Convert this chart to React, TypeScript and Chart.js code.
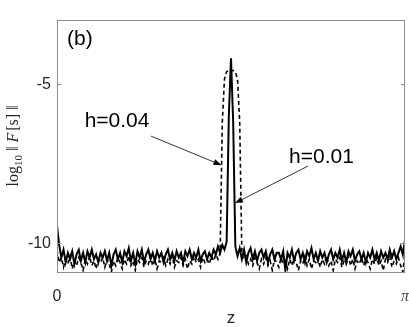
import React, { useEffect, useRef } from "react";
import { Chart, registerables } from "chart.js";

Chart.register(...registerables);

// grid: z_i = i * PI / 160, i = 0..160
const N_STEPS = 160;
const X_MIN = 0;
const X_MAX = Math.PI;
const Y_MIN = -10.9;
const Y_MAX = -3.0;
const Y_TICKS = [-5, -10];
const Y_TICK_LABELS = ["-5", "-10"];
const X_TICK_LABELS = ["0", "\u03c0"];

// h = 0.01 (solid)
const solidH001 = [
  -9.45, -10.05, -10.45, -10.2, -10.6, -10.3, -10.5, -10.25, -10.65, -10.35,
  -10.2, -10.55, -10.3, -10.6, -10.25, -10.45, -10.2, -10.5, -10.35, -10.6,
  -10.3, -10.45, -10.25, -10.55, -10.3, -10.7, -10.35, -10.2, -10.5, -10.3,
  -10.6, -10.25, -10.4, -10.15, -10.55, -10.3, -10.65, -10.25, -10.45, -10.2,
  -10.6, -10.35, -10.2, -10.5, -10.3, -10.55, -10.25, -10.45, -10.3, -10.6,
  -10.35, -10.2, -10.5, -10.3, -10.55, -10.25, -10.45, -10.3, -10.6, -10.25,
  -10.4, -10.2, -10.5, -10.3, -10.45, -10.2, -10.55, -10.35, -10.25, -10.5,
  -10.3, -10.45, -10.2, -10.35, -10.1, -10.3, -10.05, -10.2, -9.95, -6.0,
  -4.2, -6.2, -10.1, -10.4, -10.15, -10.5, -10.2, -10.6, -10.3, -10.15,
  -10.5, -10.25, -10.55, -10.3, -10.2, -10.45, -10.25, -10.6, -10.35, -10.2,
  -10.5, -10.3, -10.3, -10.5, -10.25, -10.85, -10.3, -10.45, -10.2, -10.55,
  -10.3, -10.2, -10.5, -10.3, -10.6, -10.25, -10.4, -10.15, -10.5, -10.3,
  -10.55, -10.25, -10.45, -10.3, -10.6, -10.35, -10.2, -10.5, -10.3, -10.45,
  -10.2, -10.55, -10.3, -10.6, -10.25, -10.4, -10.2, -10.55, -10.35, -10.25,
  -10.5, -10.3, -10.6, -10.3, -10.45, -10.2, -10.5, -10.3, -10.55, -10.25,
  -10.45, -10.3, -10.5, -10.2, -10.45, -10.25, -10.5, -10.3, -10.1, -10.35,
  -9.9,
];

// h = 0.04 (dashed)
const dashedH004 = [
  -10.2, -10.6, -10.45, -10.75, -10.5, -10.65, -10.4, -10.8, -10.55, -10.7,
  -10.45, -10.6, -10.85, -10.5, -10.65, -10.4, -10.7, -10.55, -10.8, -10.5,
  -10.6, -10.45, -10.75, -10.5, -10.65, -10.9, -10.55, -10.7, -10.45, -10.6,
  -10.8, -10.5, -10.65, -10.4, -10.7, -10.55, -10.85, -10.5, -10.6, -10.45,
  -10.75, -10.55, -10.65, -10.4, -10.7, -10.5, -10.8, -10.55, -10.6, -10.45,
  -10.7, -10.5, -10.65, -10.4, -10.75, -10.55, -10.6, -10.45, -10.7, -10.5,
  -10.8, -10.55, -10.65, -10.4, -10.6, -10.5, -10.75, -10.45, -10.6, -10.5,
  -10.65, -10.4, -10.55, -10.35, -10.5, -10.3, -6.2, -4.85, -4.62, -4.58,
  -4.62, -4.58, -4.62, -4.85, -6.2, -10.35, -10.5, -10.4, -10.65, -10.5,
  -10.7, -10.45, -10.6, -10.8, -10.5, -10.65, -10.45, -10.7, -10.55, -10.85,
  -10.5, -10.6, -10.75, -10.45, -10.65, -10.55, -10.8, -10.5, -10.7, -10.45,
  -10.6, -10.85, -10.55, -10.65, -10.4, -10.7, -10.5, -10.8, -10.55, -10.6,
  -10.45, -10.75, -10.5, -10.65, -10.4, -10.7, -10.55, -10.85, -10.5, -10.6,
  -10.45, -10.75, -10.55, -10.65, -10.4, -10.7, -10.5, -10.8, -10.55, -10.65,
  -10.45, -10.7, -10.5, -10.6, -10.8, -10.5, -10.65, -10.45, -10.7, -10.55,
  -10.85, -10.5, -10.6, -10.4, -10.75, -10.55, -10.65, -10.45, -10.7, -10.9,
  -10.3,
];

// annotations in data coordinates [z, value]
const PANEL_LABEL = { text: "(b)", z: 0.207, v: -3.6 };
const LABEL_H004 = { text: "h=0.04", z: 0.542, v: -6.17 };
const LABEL_H001 = { text: "h=0.01", z: 2.388, v: -7.29 };
const ARROW_H004 = { from: [0.849, -6.64], to: [1.485, -7.55] };
const ARROW_H001 = { from: [2.266, -7.58], to: [1.607, -8.74] };

const toPoints = (vals: number[]) =>
  vals.map((v, i) => ({ x: (i * Math.PI) / N_STEPS, y: v }));

const SANS = "Liberation Sans, Arial, Helvetica, sans-serif";
const SERIF = "Liberation Serif, 'Times New Roman', serif";

const decorPlugin = {
  id: "decor",
  afterDraw(chart: any) {
    const ctx = chart.ctx as CanvasRenderingContext2D;
    const { left, right, top, bottom } = chart.chartArea;
    const xs = chart.scales.x;
    const ys = chart.scales.y;
    ctx.save();
    // box
    ctx.strokeStyle = "#8e8e8e";
    ctx.lineWidth = 1;
    ctx.strokeRect(left + 0.5, top + 0.5, right - left - 1, bottom - top);
    // y ticks
    ctx.fillStyle = "#262626";
    ctx.font = `16px ${SANS}`;
    ctx.textAlign = "right";
    ctx.textBaseline = "middle";
    Y_TICKS.forEach((t, i) => {
      const y = Math.round(ys.getPixelForValue(t)) + 0.5;
      ctx.beginPath();
      ctx.moveTo(left, y);
      ctx.lineTo(left + 4, y);
      ctx.moveTo(right, y);
      ctx.lineTo(right - 4, y);
      ctx.stroke();
      ctx.fillText(Y_TICK_LABELS[i], left - 6, y);
    });
    // x tick labels
    ctx.textAlign = "center";
    ctx.textBaseline = "middle";
    ctx.font = `16px ${SANS}`;
    ctx.fillText(X_TICK_LABELS[0], xs.getPixelForValue(X_MIN), bottom + 25);
    ctx.font = `italic 16px ${SERIF}`;
    ctx.fillStyle = "#444";
    ctx.fillText(X_TICK_LABELS[1], xs.getPixelForValue(X_MAX), bottom + 25);
    // x title
    ctx.fillStyle = "#262626";
    ctx.font = `17px ${SANS}`;
    ctx.fillText("z", (left + right) / 2, bottom + 46);
    // y title (rotated)
    ctx.save();
    ctx.translate(14, (top + bottom) / 2);
    ctx.rotate(-Math.PI / 2);
    const parts: [string, string, number, number][] = [
      ["log", `16px ${SERIF}`, 0, 0],
      ["10", `11px ${SERIF}`, 5, 4],
      ["\u2016", `16px ${SERIF}`, 0, 4],
      ["F", `italic 16px ${SERIF}`, 0, 2],
      ["[s]", `16px ${SERIF}`, 0, 4],
      ["\u2016", `16px ${SERIF}`, 0, 0],
    ];
    let total = 0;
    const widths = parts.map(([t, f, , gap]) => {
      ctx.font = f;
      const w = ctx.measureText(t).width + gap;
      total += w;
      return w;
    });
    let cx = -total / 2;
    ctx.textAlign = "left";
    ctx.textBaseline = "middle";
    ctx.fillStyle = "#262626";
    parts.forEach(([t, f, dy], i) => {
      ctx.font = f;
      ctx.fillText(t, cx, dy);
      cx += widths[i];
    });
    ctx.restore();
    // panel label and annotations
    ctx.fillStyle = "#000";
    ctx.font = `21px ${SANS}`;
    ctx.textAlign = "center";
    ctx.textBaseline = "middle";
    ctx.fillText(PANEL_LABEL.text, xs.getPixelForValue(PANEL_LABEL.z), ys.getPixelForValue(PANEL_LABEL.v));
    ctx.font = `21px ${SANS}`;
    ctx.fillText(LABEL_H004.text, xs.getPixelForValue(LABEL_H004.z), ys.getPixelForValue(LABEL_H004.v));
    ctx.fillText(LABEL_H001.text, xs.getPixelForValue(LABEL_H001.z), ys.getPixelForValue(LABEL_H001.v));
    const arrow = (a: { from: number[]; to: number[] }) => {
      const x1 = xs.getPixelForValue(a.from[0]);
      const y1 = ys.getPixelForValue(a.from[1]);
      const x2 = xs.getPixelForValue(a.to[0]);
      const y2 = ys.getPixelForValue(a.to[1]);
      const ang = Math.atan2(y2 - y1, x2 - x1);
      ctx.strokeStyle = "#000";
      ctx.lineWidth = 0.8;
      ctx.beginPath();
      ctx.moveTo(x1, y1);
      ctx.lineTo(x2 - 6 * Math.cos(ang), y2 - 6 * Math.sin(ang));
      ctx.stroke();
      const L = 8;
      const W = 3;
      ctx.beginPath();
      ctx.moveTo(x2, y2);
      ctx.lineTo(
        x2 - L * Math.cos(ang) + W * Math.sin(ang),
        y2 - L * Math.sin(ang) - W * Math.cos(ang)
      );
      ctx.lineTo(
        x2 - L * Math.cos(ang) - W * Math.sin(ang),
        y2 - L * Math.sin(ang) + W * Math.cos(ang)
      );
      ctx.closePath();
      ctx.fillStyle = "#000";
      ctx.fill();
    };
    arrow(ARROW_H004);
    arrow(ARROW_H001);
    ctx.restore();
  },
};

export default function App() {
  const ref = useRef<HTMLCanvasElement | null>(null);
  useEffect(() => {
    if (!ref.current) return;
    const chart = new Chart(ref.current, {
      type: "line",
      data: {
        datasets: [
          {
            label: "h=0.01",
            data: toPoints(solidH001),
            borderColor: "#000",
            borderWidth: 2,
            pointRadius: 0,
            fill: false,
          },
          {
            label: "h=0.04",
            data: toPoints(dashedH004),
            borderColor: "#000",
            borderWidth: 1.6,
            borderDash: [4, 3],
            pointRadius: 0,
            fill: false,
          },
        ],
      },
      options: {
        animation: false,
        responsive: false,
        devicePixelRatio: 1,
        layout: { padding: { left: 57, right: 4, top: 20, bottom: 55 } },
        plugins: { legend: { display: false }, tooltip: { enabled: false } },
        scales: {
          x: { type: "linear", min: X_MIN, max: X_MAX, display: false },
          y: { type: "linear", min: Y_MIN, max: Y_MAX, display: false },
        },
      },
      plugins: [decorPlugin],
    });
    return () => chart.destroy();
  }, []);
  return (
    <div style={{ position: "absolute", left: 0, top: 0, width: 409, height: 327, background: "#fff" }}>
      <canvas ref={ref} width={409} height={327} />
    </div>
  );
}
